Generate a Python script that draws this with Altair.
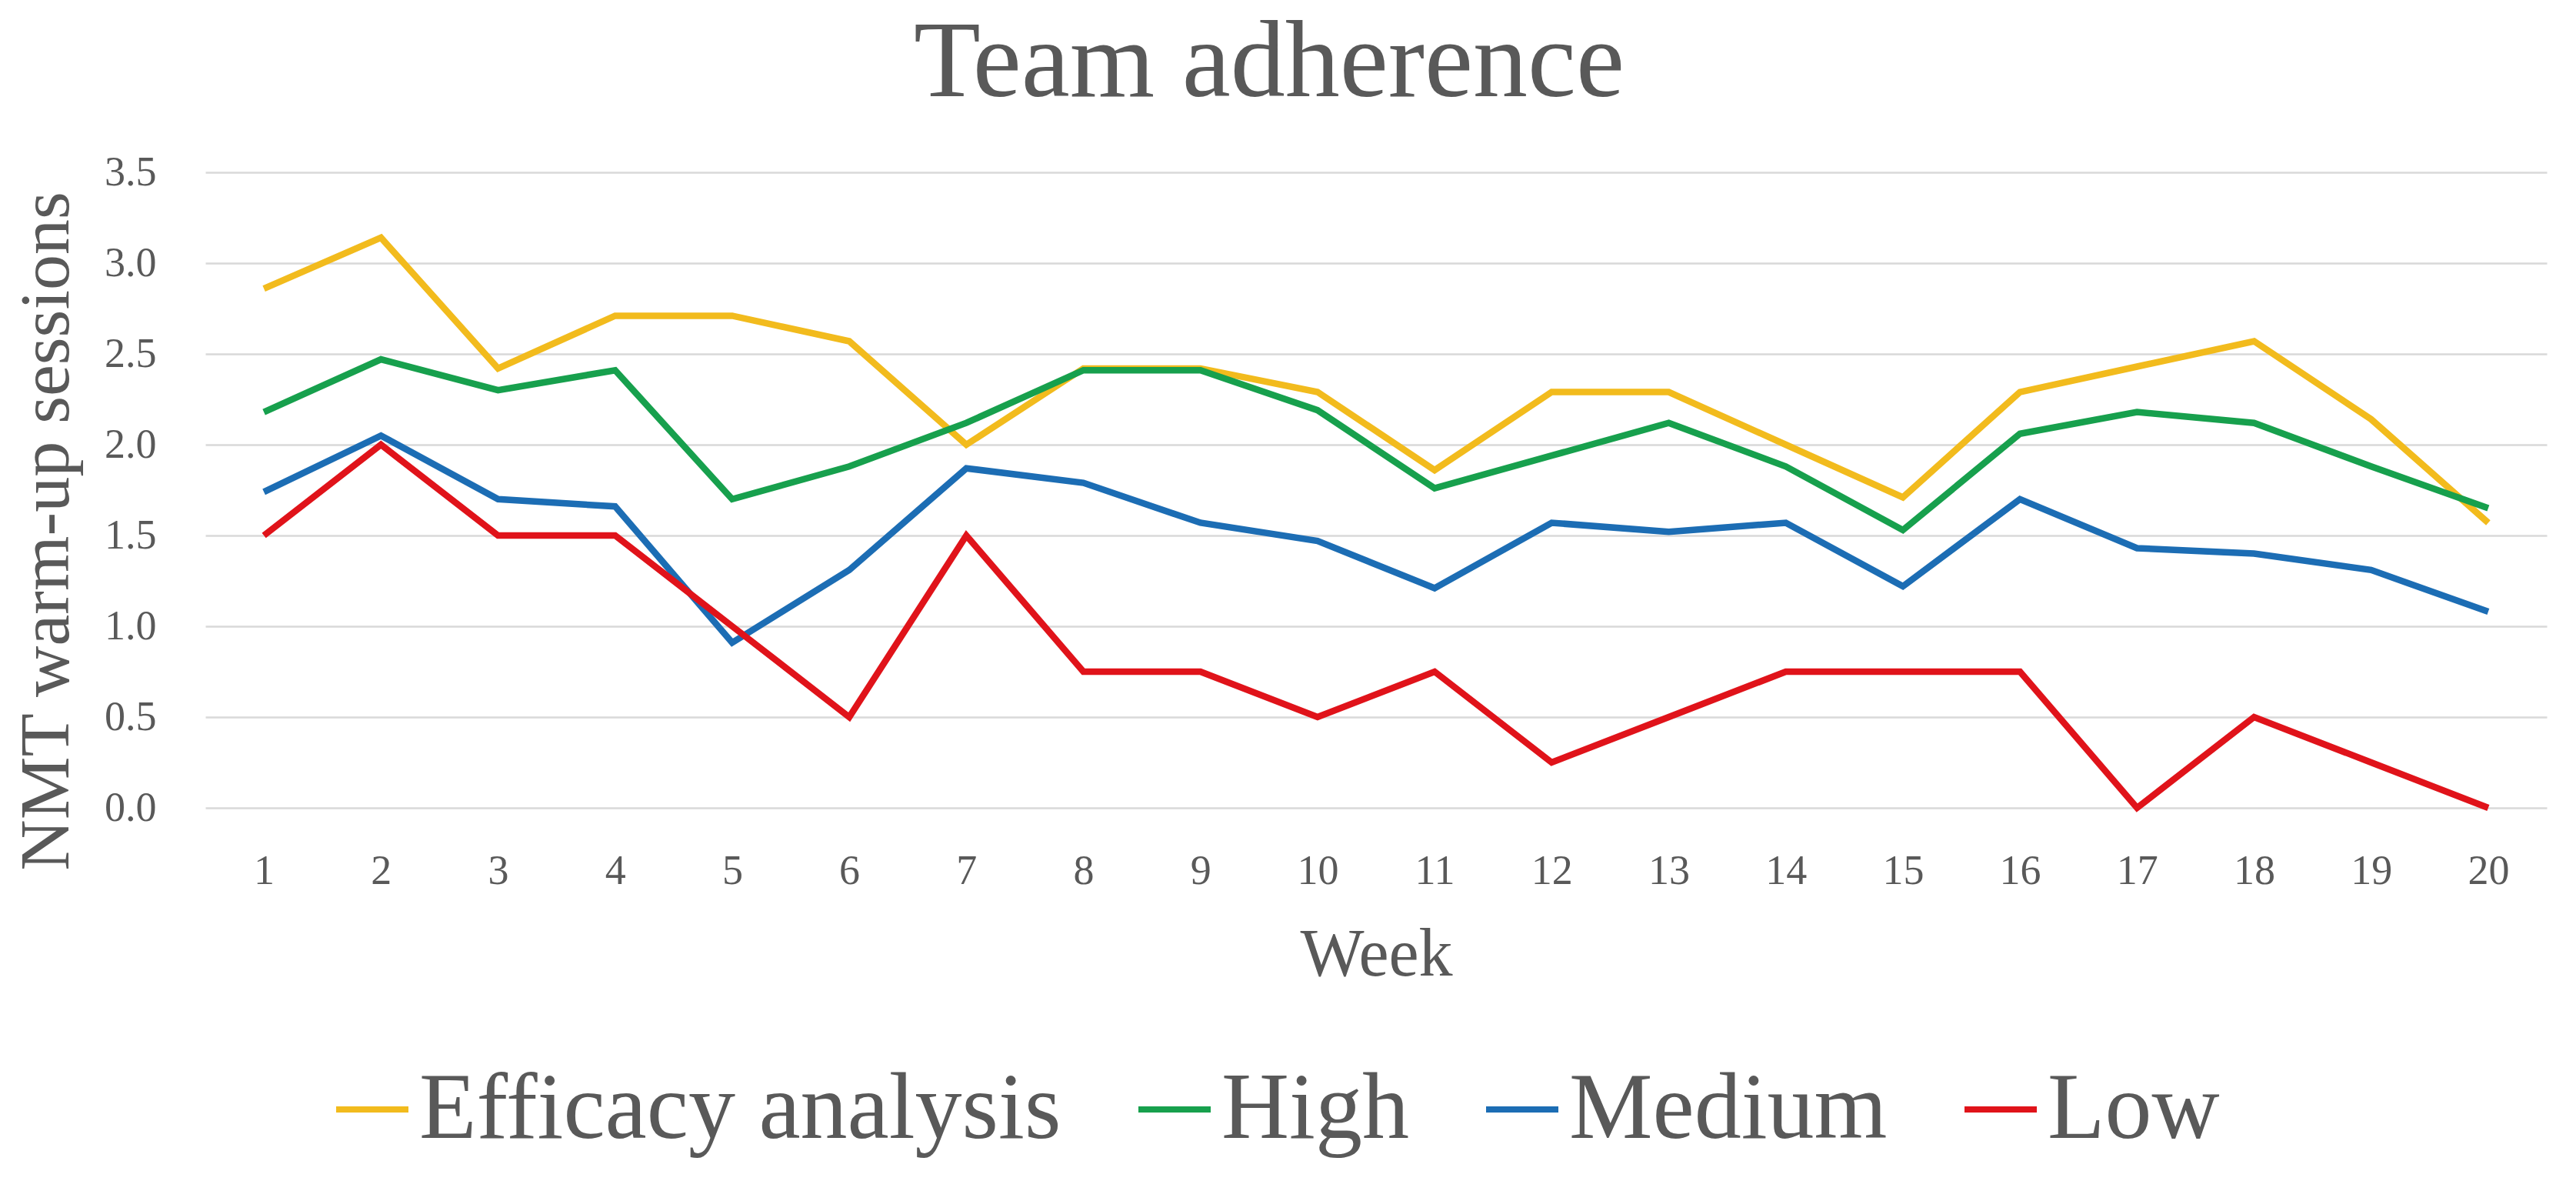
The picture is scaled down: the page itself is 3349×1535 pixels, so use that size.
import altair as alt
import pandas as pd

weeks = list(range(1, 21))
series_names = ["Efficacy analysis", "High", "Medium", "Low"]
series_colors = ["#F2BB1D", "#17A04D", "#1C6DB4", "#E0131A"]

efficacy = [2.86, 3.14, 2.42, 2.71, 2.71, 2.57, 2.00, 2.42, 2.42, 2.29,
            1.86, 2.29, 2.29, 2.00, 1.71, 2.29, 2.43, 2.57, 2.14, 1.57]
high = [2.18, 2.47, 2.30, 2.41, 1.70, 1.88, 2.12, 2.41, 2.41, 2.19,
        1.76, 1.94, 2.12, 1.88, 1.53, 2.06, 2.18, 2.12, 1.88, 1.65]
medium = [1.74, 2.05, 1.70, 1.66, 0.91, 1.31, 1.87, 1.79, 1.57, 1.47,
          1.21, 1.57, 1.52, 1.57, 1.22, 1.70, 1.43, 1.40, 1.31, 1.08]
low = [1.50, 2.00, 1.50, 1.50, 1.00, 0.50, 1.50, 0.75, 0.75, 0.50,
       0.75, 0.25, 0.50, 0.75, 0.75, 0.75, 0.00, 0.50, 0.25, 0.00]

rows = []
for name, vals in zip(series_names, [efficacy, high, medium, low]):
    for w, v in zip(weeks, vals):
        rows.append({"Week": w, "value": v, "series": name})
df = pd.DataFrame(rows)

FONT = "Liberation Serif"
GREY = "#595959"

chart = alt.Chart(df).mark_line(strokeWidth=8.5, strokeJoin="miter").encode(
    x=alt.X("Week:O", sort=weeks,
            axis=alt.Axis(title="Week", labelAngle=0, ticks=False, tickSize=0,
                          domain=False, grid=False, labelFont=FONT,
                          labelFontSize=54, labelColor=GREY, labelPadding=55,
                          titleFont=FONT, titleFontSize=88, titleColor=GREY,
                          titleFontWeight="normal", titlePadding=38)),
    y=alt.Y("value:Q", scale=alt.Scale(domain=[0, 3.5], nice=False),
            axis=alt.Axis(title="NMT warm-up sessions", values=[0, 0.5, 1, 1.5, 2, 2.5, 3, 3.5],
                          format=".1f", ticks=False, tickSize=0, domain=False,
                          grid=True, gridColor="#D9D9D9", gridWidth=2.5,
                          labelFont=FONT, labelFontSize=54, labelColor=GREY,
                          labelPadding=64, titleFont=FONT, titleFontSize=92,
                          titleColor=GREY, titleFontWeight="normal",
                          titleX=-160, titleY=466)),
    color=alt.Color("series:N", sort=series_names, title=None,
                    scale=alt.Scale(domain=series_names, range=series_colors),
                    legend=alt.Legend(orient="none", legendX=156, legendY=1157,
                                      direction="horizontal", columns=4,
                                      symbolType="stroke", symbolSize=8836,
                                      symbolStrokeWidth=8, labelFont=FONT,
                                      labelFontSize=122, labelColor=GREY,
                                      labelOffset=0, columnPadding=84,
                                      padding=0, labelLimit=2000)),
).properties(
    width=3044,
    height=826,
    title=alt.TitleParams("Team adherence", font=FONT, fontSize=142,
                          color=GREY, fontWeight="normal", anchor="middle",
                          frame="group", dx=-139, baseline="alphabetic", offset=-70),
    padding={"left": 259, "top": 216, "right": 28, "bottom": 470},
    autosize=alt.AutoSizeParams(type="none"),
    background="white",
).configure_view(strokeWidth=0)

chart.save("out.html", embed_options={"renderer": "svg", "actions": False})
